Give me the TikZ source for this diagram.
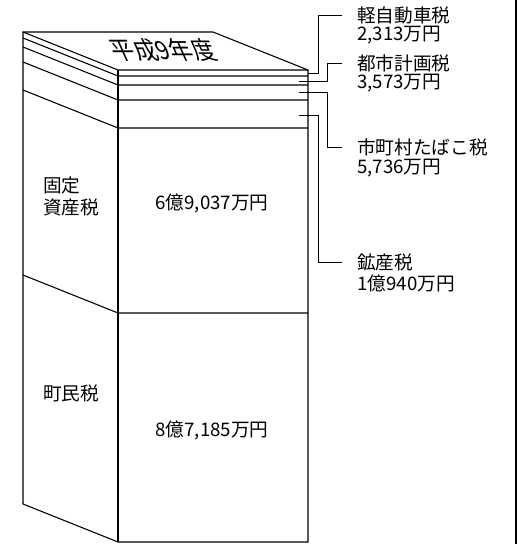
\documentclass[tikz,border=0pt]{standalone}
\usepackage{fontspec}
\setmainfont{Noto Sans CJK JP}
\begin{document}
\begin{tikzpicture}[x=0.75pt,y=-0.75pt]
\tikzstyle{edge}=[line width=0.8pt]
\tikzstyle{leader}=[line width=0.6pt, shorten >=11pt]
\tikzstyle{taxname}=[inner sep=0pt, anchor=west, font=\fontsize{14}{15}\selectfont]
\tikzstyle{amount}=[inner sep=0pt, font=\fontsize{14}{15}\selectfont]

\useasboundingbox (0,0) rectangle (519,544);

\coordinate (b_tl) at (23,32);
\coordinate (b_tr) at (213,32);
\coordinate (f_tl) at (118,70);
\coordinate (f_tr) at (308,70);
\coordinate (f_bl) at (118,542);
\coordinate (f_br) at (308,542);
\coordinate (s_bl) at (23,504);

\draw[edge] (s_bl) -- (b_tl) -- (b_tr) -- (f_tr) -- (f_br) -- (f_bl) -- cycle;
\draw[edge] (b_tl) -- (f_tl) -- (f_tr);
\draw[edge] (f_tl) -- (f_bl);

% layers
\foreach \y in {76,85,100,128,313}
  \draw[edge] (23,\y-38) -- (118,\y) -- (308,\y);

% frame
\draw[edge] (516,0) -- (516,544);

\node[font=\fontsize{17}{17}\selectfont, xslant=-0.45, yscale=1.1] (year) at (163,50) {平成9年度};

\node[taxname] (kotei_1) at (43,185) {固定};
\node[taxname] (kotei_2) at (43,207) {資産税};
\node[amount] (kotei_v) at (212,203) {6億9,037万円};

\node[taxname] (chomin) at (43,393) {町民税};
\node[amount] (chomin_v) at (212,430) {8億7,185万円};

\coordinate (t_kei) at (308,73);
\coordinate (t_toshi) at (299,81);
\coordinate (t_tabako) at (299,92);
\coordinate (t_kosan) at (299,115);

\coordinate (c_kei) at (318,73);
\coordinate (c_toshi) at (327,81);
\coordinate (c_tabako) at (327,92);
\coordinate (c_kosan) at (318,115);

\node[taxname] (kei) at (357,15) {軽自動車税};
\node[taxname] (kei_v) at (357,35) {2,313万円};
\node[taxname] (toshi) at (357,63) {都市計画税};
\node[taxname] (toshi_v) at (357,83) {3,573万円};
\node[taxname] (tabako) at (357,147) {市町村たばこ税};
\node[taxname] (tabako_v) at (357,168) {5,736万円};
\node[taxname] (kosan) at (357,262) {鉱産税};
\node[taxname] (kosan_v) at (357,283) {1億940万円};

\draw[leader] (t_kei) -- (c_kei) |- (kei.west);
\draw[leader] (t_toshi) -- (c_toshi) |- (toshi.west);
\draw[leader] (t_tabako) -- (c_tabako) |- (tabako.west);
\draw[leader] (t_kosan) -- (c_kosan) |- (kosan.west);

\end{tikzpicture}
\end{document}
